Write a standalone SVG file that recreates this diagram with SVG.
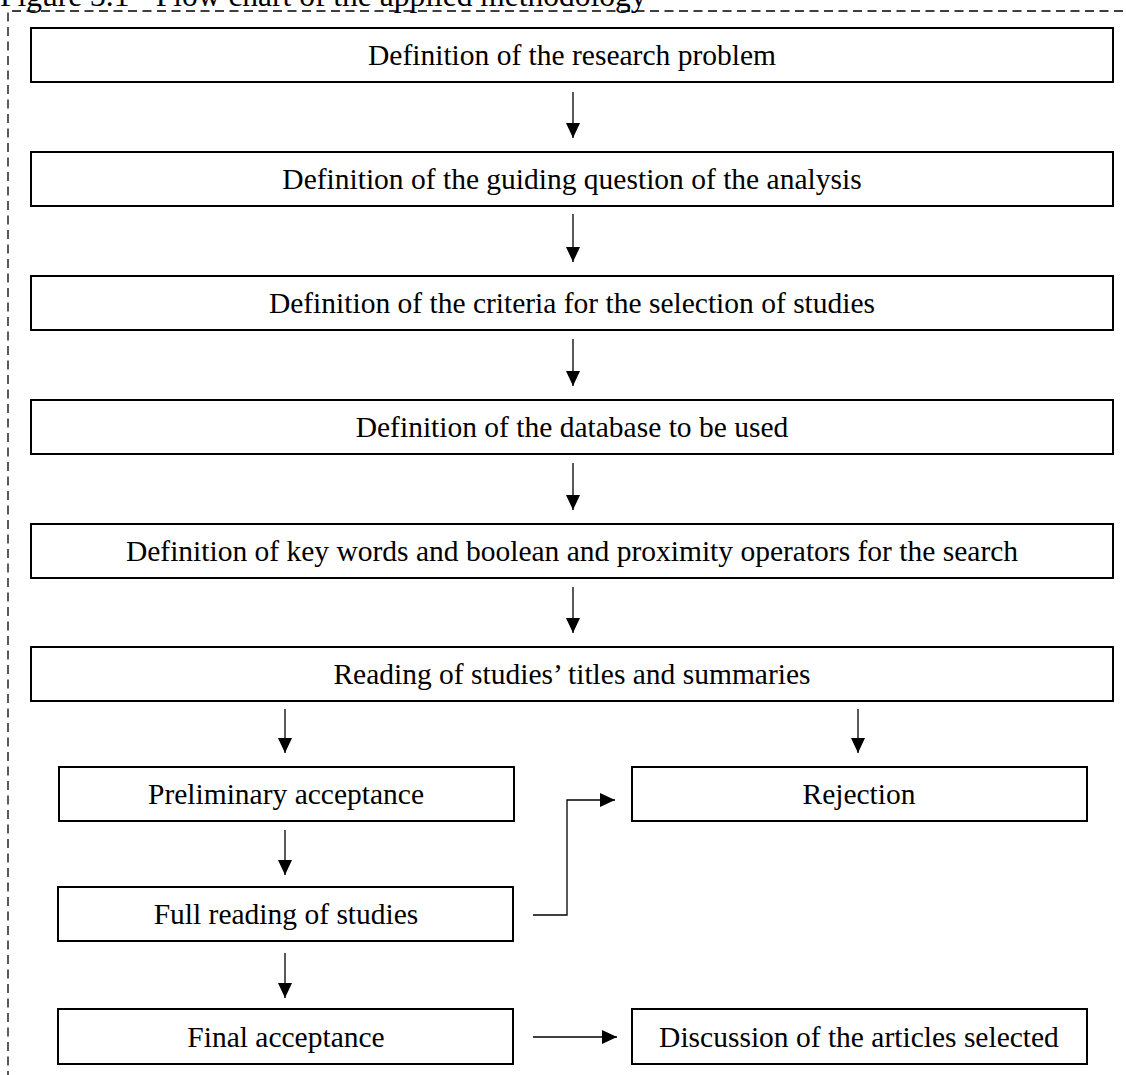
<svg xmlns="http://www.w3.org/2000/svg" width="1126" height="1075" viewBox="0 0 1126 1075">
<style>
.box{fill:#fff;stroke:#000;stroke-width:2}
.lbl{font-family:"Liberation Serif","Times New Roman",serif;font-size:29.5px;fill:#000;text-anchor:middle}
.title{font-family:"Liberation Serif","Times New Roman",serif;font-size:31.5px;fill:#000}
.con{fill:none;stroke:#000;stroke-width:1.3}
.frame{fill:none;stroke:#000;stroke-width:1.3;stroke-dasharray:9 5.5}
</style>
<defs>
<marker id="ah" viewBox="0 0 15 14" refX="15" refY="7" markerWidth="15" markerHeight="14" markerUnits="userSpaceOnUse" orient="auto">
<path d="M0,0 L15,7 L0,14 z" fill="#000"/>
</marker>
</defs>
<rect width="1126" height="1075" fill="#fff"/>
<text class="title" x="0" y="6">Figure 3.1 - Flow chart of the applied methodology</text>
<path class="frame" d="M8,1080 L8,11 L1130,11"/>

<g id="n1"><rect class="box" x="31" y="28" width="1082" height="54"/><text class="lbl" x="572" y="65">Definition of the research problem</text></g>
<g id="n2"><rect class="box" x="31" y="152" width="1082" height="54"/><text class="lbl" x="572" y="189">Definition of the guiding question of the analysis</text></g>
<g id="n3"><rect class="box" x="31" y="276" width="1082" height="54"/><text class="lbl" x="572" y="313">Definition of the criteria for the selection of studies</text></g>
<g id="n4"><rect class="box" x="31" y="400" width="1082" height="54"/><text class="lbl" x="572" y="437">Definition of the database to be used</text></g>
<g id="n5"><rect class="box" x="31" y="524" width="1082" height="54"/><text class="lbl" x="572" y="561">Definition of key words and boolean and proximity operators for the search</text></g>
<g id="n6"><rect class="box" x="31" y="647" width="1082" height="54"/><text class="lbl" x="572" y="684">Reading of studies’ titles and summaries</text></g>
<g id="n7"><rect class="box" x="59" y="767" width="455" height="54"/><text class="lbl" x="286" y="804">Preliminary acceptance</text></g>
<g id="n8"><rect class="box" x="632" y="767" width="455" height="54"/><text class="lbl" x="859" y="804">Rejection</text></g>
<g id="n9"><rect class="box" x="58" y="887" width="455" height="54"/><text class="lbl" x="286" y="924">Full reading of studies</text></g>
<g id="n10"><rect class="box" x="58" y="1009" width="455" height="55"/><text class="lbl" x="286" y="1047">Final acceptance</text></g>
<g id="n11"><rect class="box" x="632" y="1009" width="455" height="55"/><text class="lbl" x="859" y="1047">Discussion of the articles selected</text></g>

<g id="connectors">
<path class="con" marker-end="url(#ah)" d="M573,92 L573,138"/>
<path class="con" marker-end="url(#ah)" d="M573,214 L573,262"/>
<path class="con" marker-end="url(#ah)" d="M573,339 L573,386"/>
<path class="con" marker-end="url(#ah)" d="M573,463 L573,510"/>
<path class="con" marker-end="url(#ah)" d="M573,587 L573,633"/>
<path class="con" marker-end="url(#ah)" d="M285,709 L285,753"/>
<path class="con" marker-end="url(#ah)" d="M858,709 L858,753"/>
<path class="con" marker-end="url(#ah)" d="M285,830 L285,875"/>
<path class="con" marker-end="url(#ah)" d="M285,953 L285,998"/>
<path class="con" marker-end="url(#ah)" d="M533,915 L567,915 L567,800 L615,800"/>
<path class="con" marker-end="url(#ah)" d="M533,1037 L617,1037"/>
</g>
</svg>
